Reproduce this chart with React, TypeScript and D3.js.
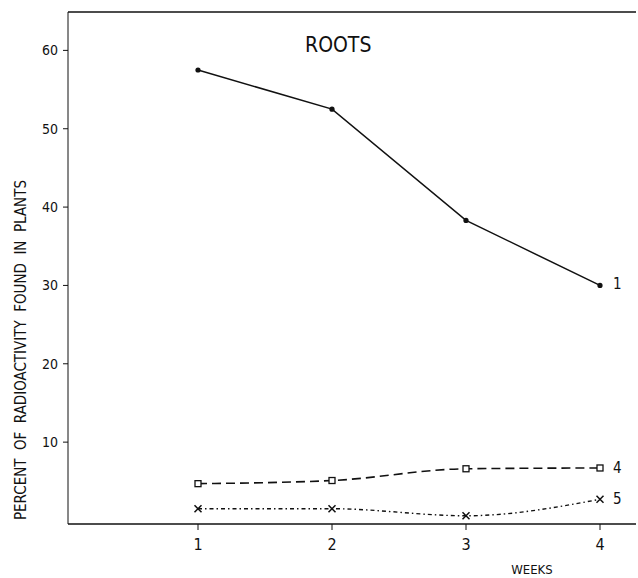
import React from 'react';
import { scaleLinear, line, curveLinear, curveMonotoneX } from 'd3';

const weeks = [1, 2, 3, 4];
const series1 = [57.5, 52.5, 38.3, 30.0];
const series4 = [4.7, 5.1, 6.6, 6.7];
const series5 = [1.5, 1.5, 0.6, 2.7];
const seriesNames = ['1', '4', '5'];
const yTicks = [10, 20, 30, 40, 50, 60];
const title = 'ROOTS';
const yLabel = 'PERCENT  OF  RADIOACTIVITY  FOUND  IN  PLANTS';
const xLabel = 'WEEKS';

const W = 638;
const H = 578;
const left = 68;
const right = 636;
const top = 12;
const bottom = 524;
const font = "'DejaVu Sans Condensed', 'DejaVu Sans', sans-serif";
const ink = '#111';

const App = () => {
  const x = scaleLinear().domain([1, 4]).range([198, 600]);
  const y = scaleLinear().domain([-0.45, 64.9]).range([bottom, top]);

  const lineStraight = line<number>()
    .x((_, i) => x(weeks[i]))
    .y((d) => y(d))
    .curve(curveLinear);
  const lineSmooth = line<number>()
    .x((_, i) => x(weeks[i]))
    .y((d) => y(d))
    .curve(curveMonotoneX);

  const all = [series1, series4, series5];
  const labelDy = [4, 5, 5];

  return (
    <svg width={W} height={H} style={{ position: 'absolute', left: 0, top: 0, background: '#fff' }}>
      <rect width={W} height={H} fill="#fff" />
      {/* frame */}
      <line x1={left} x2={right} y1={top} y2={top} stroke={ink} strokeWidth={1.3} />
      <line x1={left} x2={left} y1={top} y2={bottom} stroke={ink} strokeWidth={1} />
      <line x1={left} x2={right} y1={bottom} y2={bottom} stroke={ink} strokeWidth={1.4} />

      {/* y ticks */}
      {yTicks.map((t) => (
        <g key={t}>
          <line x1={left - 5} x2={left} y1={y(t)} y2={y(t)} stroke={ink} strokeWidth={1} />
          <text x={58} y={y(t)} dy="0.36em" textAnchor="end" fontFamily={font} fontSize={14} fill={ink}>
            {t}
          </text>
        </g>
      ))}

      {/* x ticks */}
      {weeks.map((w) => (
        <g key={w}>
          <line x1={x(w)} x2={x(w)} y1={bottom} y2={bottom + 6} stroke={ink} strokeWidth={1} />
          <text x={x(w)} y={550} textAnchor="middle" fontFamily={font} fontSize={16} fill={ink}>
            {w}
          </text>
        </g>
      ))}

      {/* series 1 */}
      <path d={lineStraight(series1) || ''} fill="none" stroke={ink} strokeWidth={1.5} />
      {series1.map((d, i) => (
        <circle key={i} cx={x(weeks[i])} cy={y(d)} r={2.6} fill={ink} />
      ))}

      {/* series 4 */}
      <path d={lineSmooth(series4) || ''} fill="none" stroke={ink} strokeWidth={1.6} strokeDasharray="9 5" />
      {series4.map((d, i) => (
        <rect key={i} x={x(weeks[i]) - 3} y={y(d) - 3} width={6} height={6} fill="#fff" stroke={ink} strokeWidth={1.3} />
      ))}

      {/* series 5 */}
      <path d={lineSmooth(series5) || ''} fill="none" stroke={ink} strokeWidth={1.4} strokeDasharray="4 3 1.5 3" />
      {series5.map((d, i) => (
        <path
          key={i}
          d={`M${x(weeks[i]) - 3.5},${y(d) - 3.5}L${x(weeks[i]) + 3.5},${y(d) + 3.5}M${x(weeks[i]) - 3.5},${y(d) + 3.5}L${x(weeks[i]) + 3.5},${y(d) - 3.5}`}
          stroke={ink}
          strokeWidth={1.5}
        />
      ))}

      {/* series labels */}
      {all.map((s, i) => (
        <text key={i} x={x(4) + 13} y={y(s[3]) + labelDy[i]} fontFamily={font} fontSize={15} fill={ink}>
          {seriesNames[i]}
        </text>
      ))}

      {/* title and axis labels */}
      <text x={305} y={52} fontFamily={font} fontSize={21} fill={ink}>
        {title}
      </text>
      <text
        transform="translate(26,350) rotate(-90)"
        textAnchor="middle"
        fontFamily={font}
        fontSize={15}
        fill={ink}
        textLength={340}
        lengthAdjust="spacing"
        style={{ whiteSpace: 'pre' }}
      >
        {yLabel}
      </text>
      <text x={532} y={574} textAnchor="middle" fontFamily={font} fontSize={13} fill={ink}>
        {xLabel}
      </text>
    </svg>
  );
};

export default App;
